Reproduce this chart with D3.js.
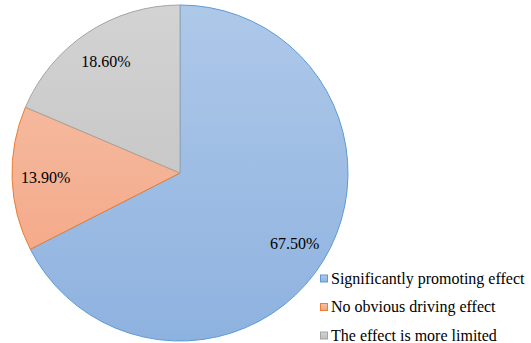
<!DOCTYPE html>
<html>
<head>
<meta charset="utf-8">
<script src="https://cdn.jsdelivr.net/npm/d3@7"></script>
<style>
  body { margin: 0; background: #fff; }
</style>
</head>
<body>
<div id="chart"></div>
<script>
// data
const categories = ["Significantly promoting effect", "No obvious driving effect", "The effect is more limited"];
const values = [67.5, 13.9, 18.6];
const labels = ["67.50%", "13.90%", "18.60%"];

const topColors = ["#aec8e9", "#f6c2aa", "#d3d3d3"];
const bottomColors = ["#8eb2df", "#f3a27f", "#bdbdbd"];
const strokeColors = ["#5b9bd5", "#ed7d31", "#a5a5a5"];

const width = 531, height = 343;
const cx = 180, cy = 173, r = 168;
const font = "'Liberation Serif', 'Times New Roman', serif";

const svg = d3.select("#chart").append("svg")
  .attr("width", width)
  .attr("height", height)
  .style("font-family", font);

const defs = svg.append("defs");
categories.forEach((c, i) => {
  const g = defs.append("linearGradient")
    .attr("id", "grad" + i)
    .attr("gradientUnits", "userSpaceOnUse")
    .attr("x1", 0).attr("y1", -r)
    .attr("x2", 0).attr("y2", r);
  g.append("stop").attr("offset", "0%").attr("stop-color", topColors[i]);
  g.append("stop").attr("offset", "100%").attr("stop-color", bottomColors[i]);
  const gl = defs.append("linearGradient")
    .attr("id", "lgrad" + i)
    .attr("x1", 0).attr("y1", 0).attr("x2", 0).attr("y2", 1);
  gl.append("stop").attr("offset", "0%").attr("stop-color", topColors[i]);
  gl.append("stop").attr("offset", "100%").attr("stop-color", bottomColors[i]);
});

const pie = d3.pie().sort(null).value(d => d);
const arcs = pie(values);
const arc = d3.arc().innerRadius(0).outerRadius(r);

const g = svg.append("g").attr("transform", `translate(${cx},${cy})`);

g.selectAll("path.slice").data(arcs).enter().append("path")
  .attr("class", "slice")
  .attr("d", arc)
  .attr("fill", (d, i) => `url(#grad${i})`)
  .attr("stroke", (d, i) => strokeColors[i])
  .attr("stroke-width", 1);

// value labels
const labelPos = [0.8, 0.8, 0.8];
g.selectAll("text.lbl").data(arcs).enter().append("text")
  .attr("class", "lbl")
  .attr("transform", (d, i) => {
    const a = (d.startAngle + d.endAngle) / 2;
    const rr = r * labelPos[i];
    return `translate(${rr * Math.sin(a)},${-rr * Math.cos(a)})`;
  })
  .attr("text-anchor", "middle")
  .attr("dy", "0.35em")
  .style("font-size", "16px")
  .attr("fill", "#000")
  .text((d, i) => labels[i]);

// legend
const legend = svg.append("g").attr("transform", "translate(320,278.5)");
const rows = legend.selectAll("g").data(categories).enter().append("g")
  .attr("transform", (d, i) => `translate(0,${i * 28.5})`);
rows.append("rect")
  .attr("x", 0.5).attr("y", -3.5)
  .attr("width", 7).attr("height", 7)
  .attr("fill", (d, i) => `url(#lgrad${i})`)
  .attr("stroke", (d, i) => strokeColors[i]);
rows.append("text")
  .attr("x", 11)
  .attr("dy", "0.33em")
  .style("font-size", "16px")
  .attr("fill", "#000")
  .text(d => d);
</script>
</body>
</html>
